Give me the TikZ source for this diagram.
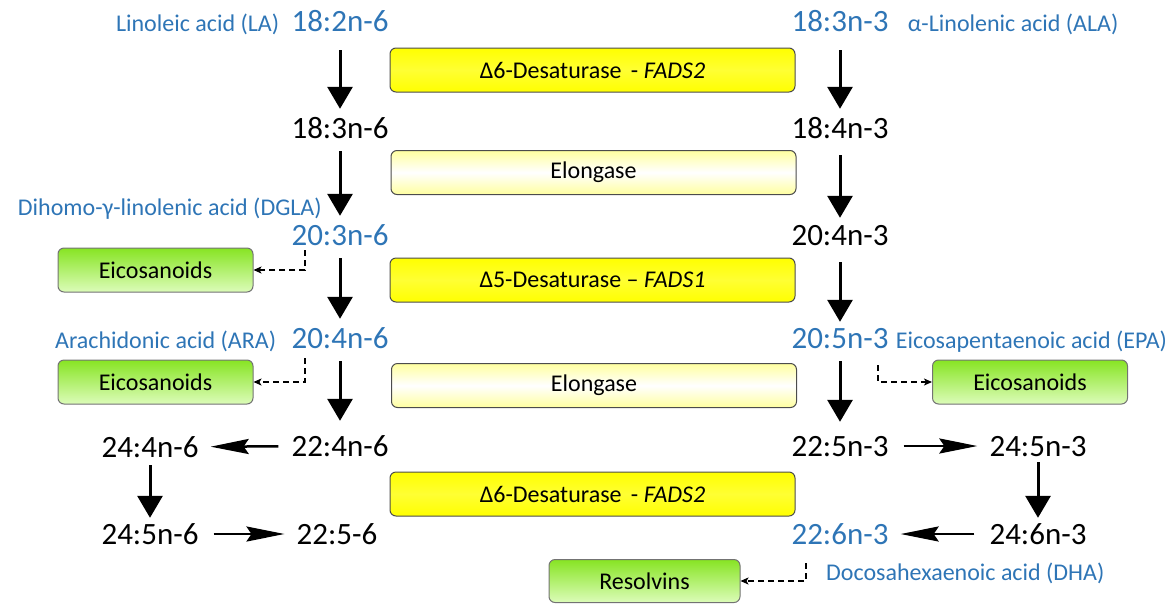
\documentclass[tikz,border=0pt]{standalone}
\usepackage{fontspec}
\setmainfont{Carlito}
\usetikzlibrary{positioning,arrows.meta}
\definecolor{bleu}{RGB}{46,117,182}
\definecolor{vertf}{RGB}{135,228,35}
\definecolor{vertc}{RGB}{220,252,185}
\definecolor{jaune}{RGB}{255,255,0}
\definecolor{jaunep}{RGB}{255,255,160}
\begin{document}
\begin{tikzpicture}[x=1pt,y=-1pt]
	\tikzstyle{acide}=[inner sep=3pt,text height=20pt,text depth=0pt,anchor=base,font=\fontsize{31}{36}\selectfont]
	\tikzstyle{nom}=[inner sep=3pt,text=bleu,font=\fontsize{24}{28}\selectfont]
	\tikzstyle{fleche}=[line width=3pt,-{Triangle[width=25pt,length=22pt]},shorten <=10pt,shorten >=6pt]
	\tikzstyle{flechex}=[line width=2.5pt,-{Stealth[width=15pt,length=38pt,inset=5pt]},shorten <=10pt,shorten >=9pt]
	\tikzstyle{pointille}=[line width=2pt,dash pattern=on 6pt off 4pt,-{Stealth[width=7pt,length=8pt,inset=2pt]}]
	\tikzset{enzyme/.style={draw=black!70,line width=1pt,rounded corners=6pt,minimum width=405pt,minimum height=44pt,font=\fontsize{24}{28}\selectfont},
		desat/.style={enzyme,top color=jaune,bottom color=jaune,middle color=jaune!80!white},
		elong/.style={enzyme,top color=jaunep,bottom color=jaunep,middle color=white},
		produit/.style={draw=black!55,line width=1pt,rounded corners=6pt,top color=vertf,bottom color=vertc,minimum width=195pt,minimum height=44pt,font=\fontsize{24}{28}\selectfont}}
	\useasboundingbox (0,0) rectangle (1172,603);
	% omega-6
	\node[acide,text=bleu] (a0) at (340,31) {18:2n-6};
	\node[acide] (a1) at (340,138) {18:3n-6};
	\node[acide,text=bleu] (a2) at (340,245) {20:3n-6};
	\node[acide,text=bleu] (a3) at (340,348) {20:4n-6};
	\node[acide] (a4) at (340,456) {22:4n-6};
	\node[acide] (a5) at (150,457) {24:4n-6};
	\node[acide] (a6) at (150,544) {24:5n-6};
	\node[acide] (a7) at (337,544) {22:5-6};
	% omega-3
	\node[acide,text=bleu] (b0) at (840,31) {18:3n-3};
	\node[acide] (b1) at (840,138) {18:4n-3};
	\node[acide] (b2) at (840,245) {20:4n-3};
	\node[acide,text=bleu] (b3) at (840,348) {20:5n-3};
	\node[acide] (b4) at (840,456) {22:5n-3};
	\node[acide] (b5) at (1038,456) {24:5n-3};
	\node[acide] (b6) at (1038,544) {24:6n-3};
	\node[acide,text=bleu] (b7) at (840,544) {22:6n-3};
	% noms
	\node[nom,base left=6pt of a0] (la) {Linoleic acid (LA)};
	\node[nom,base right=13pt of b0] (ala) {α-Linolenic acid (ALA)};
	\node[nom,anchor=base east] (dgla) at (325,215) {Dihomo-γ-linolenic acid (DGLA)};
	\node[nom,base left=9pt of a3] (ara) {Arachidonic acid (ARA)};
	\node[nom,base right=1pt of b3] (epa) {Eicosapentaenoic acid (EPA)};
	\node[nom,anchor=base west] (dha) at (823,580) {Docosahexaenoic acid (DHA)};
	% enzymes
	\node[desat] (e1) at (592.5,70) {Δ6-Desaturase\, - \textit{FADS2}};
	\node[elong] (e2) at (593.5,172.5) {Elongase};
	\node[desat] (e3) at (592.5,280) {Δ5-Desaturase – \textit{FADS1}};
	\node[elong] (e4) at (594,385.5) {Elongase};
	\node[desat] (e5) at (592.5,494) {Δ6-Desaturase\, - \textit{FADS2}};
	% produits
	\node[produit] (p1) at (155.5,270) {Eicosanoids};
	\node[produit] (p2) at (155.5,382) {Eicosanoids};
	\node[produit] (p3) at (1030,382) {Eicosanoids};
	\node[produit,minimum width=191pt,minimum height=43pt] (p4) at (644.5,581) {Resolvins};
	\coordinate (d1) at (305,250);
	\coordinate (d2) at (305,358);
	\coordinate (d3) at (878,365);
	\coordinate (d4) at (806,563);
	\draw[fleche,shorten <=16pt] (a0) -- (a1);
	\draw[fleche] (a1) -- (a2);
	\draw[fleche] (a2) -- (a3);
	\draw[fleche,shorten >=12pt] (a3) -- (a4);
	\draw[fleche,shorten <=5pt,shorten >=3pt] (a5) -- (a6);
	\draw[fleche,shorten <=16pt] (b0) -- (b1);
	\draw[fleche,shorten <=14pt,shorten >=4pt] (b1) -- (b2);
	\draw[fleche,shorten <=14pt,shorten >=3pt] (b2) -- (b3);
	\draw[fleche,shorten >=11pt] (b3) -- (b4);
	\draw[fleche,shorten <=3pt,shorten >=3pt] (b5) -- (b6);
	\draw[flechex] (a4) -- (a5);
	\draw[flechex,shorten <=12pt] (a6) -- (a7);
	\draw[flechex,shorten <=12pt] (b4) -- (b5);
	\draw[flechex,shorten <=12pt] (b6) -- (b7);
	\draw[pointille] (d1) |- (p1);
	\draw[pointille] (d2) |- (p2);
	\draw[pointille] (d3) |- (p3);
	\draw[pointille] (d4) |- (p4);
\end{tikzpicture}
\end{document}
